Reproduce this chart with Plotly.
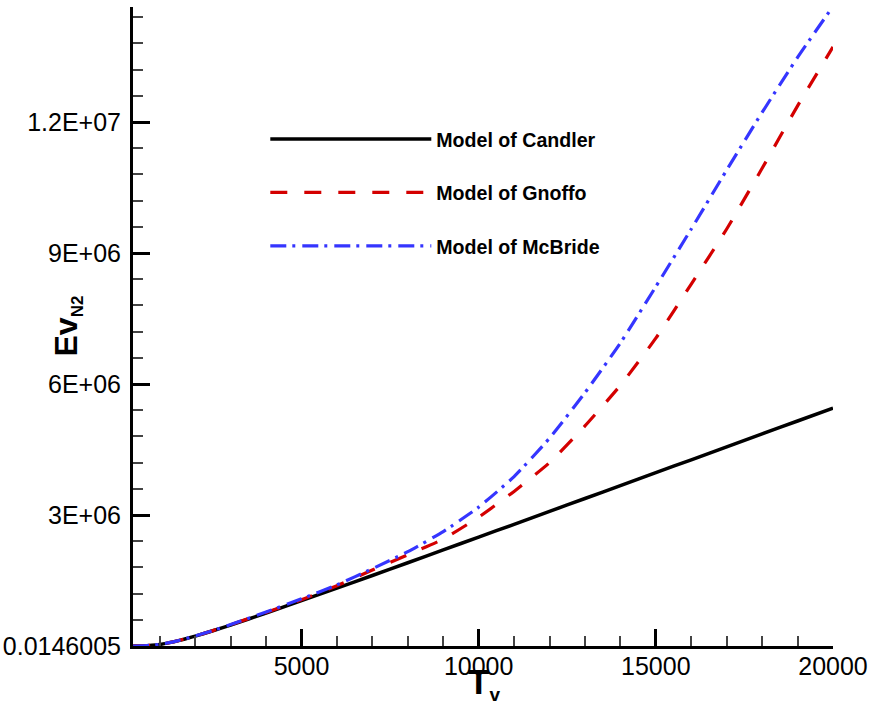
import plotly.graph_objects as go

# Vibrational temperature (K)
T_v = [250, 500, 1000, 1500, 2000, 2500, 3000, 4000, 5000, 6000, 7000, 8000, 9000,
       10000, 11000, 12000, 13000, 14000, 15000, 16000, 17000, 18000, 19000, 20000]

# Vibrational energy of N2 (J/kg)
ev_candler = [0.0146005, 1.1e3, 35e3, 117e3, 226e3, 349e3, 480e3, 754e3, 1.038e6, 1.325e6,
              1.615e6, 1.907e6, 2.200e6, 2.494e6, 2.786e6, 3.083e6, 3.378e6, 3.673e6,
              3.969e6, 4.265e6, 4.561e6, 4.857e6, 5.153e6, 5.449e6]
ev_gnoffo = [0.0146005, 1.1e3, 35e3, 118e3, 228e3, 352e3, 487e3, 768e3, 1.06e6, 1.38e6,
             1.74e6, 2.09e6, 2.45e6, 2.95e6, 3.54e6, 4.20e6, 5.04e6, 5.97e6,
             7.05e6, 8.29e6, 9.55e6, 10.94e6, 12.37e6, 13.72e6]
ev_mcbride = [0.0146005, 1.1e3, 36e3, 118e3, 229e3, 354e3, 490e3, 778e3, 1.08e6, 1.40e6,
              1.77e6, 2.16e6, 2.62e6, 3.18e6, 3.88e6, 4.76e6, 5.80e6, 6.94e6,
              8.23e6, 9.55e6, 10.90e6, 12.22e6, 13.48e6, 14.65e6]

names = ["Model of Candler", "Model of Gnoffo", "Model of McBride"]

y_tickvals = [0.0146005, 3e6, 6e6, 9e6, 1.2e7]
y_ticktext = ["0.0146005", "3E+06", "6E+06", "9E+06", "1.2E+07"]
x_tickvals = [5000, 10000, 15000, 20000]
x_ticktext = ["5000", "10000", "15000", "20000"]

FONT = "Liberation Sans, Arial, sans-serif"

fig = go.Figure()
fig.add_trace(go.Scatter(x=T_v, y=ev_candler, mode="lines", name="<b>%s</b>" % names[0],
                         legendgroup="a", line=dict(color="black", width=3.5, shape="spline", smoothing=0.5)))
fig.add_trace(go.Scatter(x=T_v, y=ev_gnoffo, mode="lines", name="<b>%s</b>" % names[1],
                         legendgroup="b", line=dict(color="#d40000", width=3.2, dash="17px,17px",
                                                    shape="spline", smoothing=0.5)))
fig.add_trace(go.Scatter(x=T_v, y=ev_mcbride, mode="lines", name="<b>%s</b>" % names[2],
                         legendgroup="c", line=dict(color="#3535ff", width=3.2, dash="16px,6px,3px,7px",
                                                    shape="spline", smoothing=0.5)))

tickfont = dict(family=FONT, size=25, color="black")

fig.update_layout(
    width=870, height=713,
    margin=dict(l=133, r=37, t=7, b=67, autoexpand=False),
    paper_bgcolor="white", plot_bgcolor="white",
    showlegend=True,
    legend=dict(x=0.189, y=0.8236, xanchor="left", yanchor="top",
                bgcolor="rgba(0,0,0,0)", itemwidth=161, tracegroupgap=25,
                font=dict(family=FONT, size=19.6, color="black"),
                itemclick=False),
    xaxis=dict(range=[245, 20000], showgrid=False, zeroline=False,
               showline=True, linecolor="black", linewidth=3,
               ticks="inside", ticklen=17, tickwidth=3, tickcolor="black",
               tickmode="array", tickvals=x_tickvals, ticktext=x_ticktext,
               tickfont=tickfont, ticklabelstandoff=-4,
               minor=dict(tickmode="linear", tick0=0, dtick=1000, ticks="inside",
                          ticklen=10, tickwidth=1.5, tickcolor="#444")),
    yaxis=dict(range=[0.0146005, 1.4634e7], showgrid=False, zeroline=False,
               showline=True, linecolor="black", linewidth=3,
               ticks="inside", ticklen=17, tickwidth=3, tickcolor="black",
               tickmode="array", tickvals=y_tickvals, ticktext=y_ticktext,
               tickfont=tickfont, ticklabelstandoff=4,
               minor=dict(tickmode="linear", tick0=0, dtick=6e5, ticks="inside",
                          ticklen=10, tickwidth=1.5, tickcolor="#444")),
    annotations=[
        dict(text="<b>T<sub><span style='font-size:19px'>v</span></sub></b>",
             xref="paper", yref="paper", x=0.502, y=0, xanchor="center", yanchor="middle",
             yshift=-37, showarrow=False, font=dict(family=FONT, size=35, color="black")),
        dict(text="<b>Ev<sub><span style='font-size:17px'>N2</span></sub></b>",
             xref="paper", yref="paper", x=0, y=0.5, xanchor="center", yanchor="middle",
             xshift=-66, textangle=-90, showarrow=False,
             font=dict(family=FONT, size=32, color="black")),
    ],
)

fig.write_html("out.html", config={"displayModeBar": False},
               post_script="document.body.style.margin='0';")
